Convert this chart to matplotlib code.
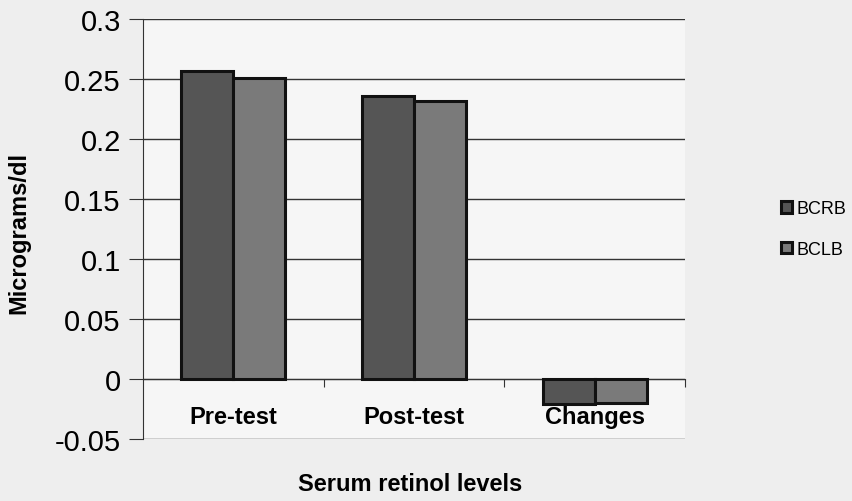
import numpy as np
import matplotlib.pyplot as plt

categories = ['Pre-test', 'Post-test', 'Changes']
bcrb = [0.257, 0.236, -0.021]
bclb = [0.251, 0.232, -0.020]
series_names = ['BCRB', 'BCLB']
yticks = [-0.05, 0, 0.05, 0.1, 0.15, 0.2, 0.25, 0.3]
ytick_labels = ['-0.05', '0', '0.05', '0.1', '0.15', '0.2', '0.25', '0.3']

plt.rcParams['font.family'] = ['Liberation Sans', 'DejaVu Sans']

fig = plt.figure(figsize=(8.53, 5.02), dpi=100, facecolor='#eeeeee')
ax = fig.add_axes([143 / 853, 1 - 440 / 502, 542 / 853, 420 / 502])
ax.set_facecolor('#f6f6f6')

x = np.arange(len(categories))
w = 0.288
ax.bar(x - w / 2, bcrb, w, color='#555555', edgecolor='#111111', linewidth=2.2,
       label=series_names[0], zorder=3)
ax.bar(x + w / 2, bclb, w, color='#7a7a7a', edgecolor='#111111', linewidth=2.2,
       label=series_names[1], zorder=3)

ax.set_xlim(-0.5, 2.5)
ax.set_ylim(-0.05, 0.3)
ax.set_yticks(yticks)
ax.set_yticklabels(ytick_labels, fontsize=21)
ax.yaxis.grid(True, color='#333333', linewidth=1.0, zorder=0)

# x axis crosses at zero, category ticks between groups
ax.spines['bottom'].set_position(('data', 0))
ax.spines['bottom'].set_color('#333333')
ax.spines['top'].set_visible(False)
ax.spines['right'].set_visible(False)
ax.spines['left'].set_color('#333333')
ax.set_xticks([0.5, 1.5, 2.5])
ax.set_xticklabels([])
ax.set_xticks(x, minor=True)
ax.set_xticklabels(categories, minor=True, fontsize=17, fontweight='bold')
ax.tick_params(axis='x', which='major', direction='out', length=6, color='#333333')
ax.tick_params(axis='x', which='minor', length=0, pad=19)
ax.tick_params(axis='y', direction='out', length=10, color='#333333', pad=6)

fig.text(410 / 853, 1 - 485 / 502, 'Serum retinol levels', fontsize=17,
         fontweight='bold', ha='center', va='center')
fig.text(19 / 853, 1 - 233 / 502, 'Micrograms/dl', rotation=90, fontsize=17,
         fontweight='bold', ha='center', va='center')

leg = fig.legend(loc='center left', bbox_to_anchor=(772 / 853, 1 - 230 / 502),
                 frameon=False, fontsize=13, handlelength=0.6, handleheight=0.6,
                 handletextpad=0.25, labelspacing=1.3, borderpad=0)

fig.savefig('out.png', dpi=100, facecolor=fig.get_facecolor())
